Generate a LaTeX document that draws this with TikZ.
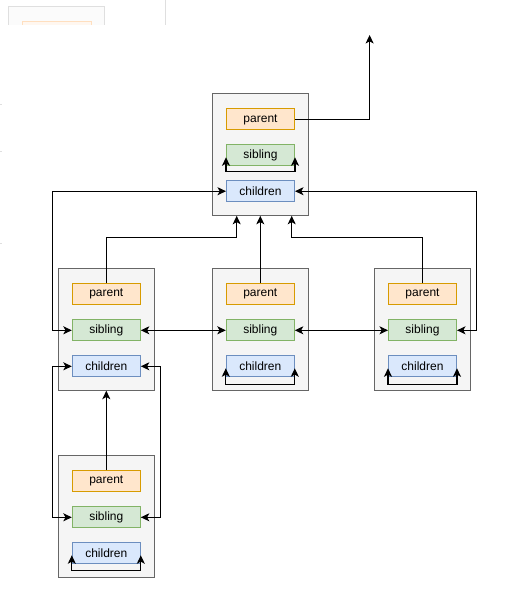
\documentclass[tikz,border=0pt]{standalone}
\usepackage{fontspec}
\setmainfont{Liberation Sans}
\usetikzlibrary{arrows.meta}
\definecolor{contfill}{HTML}{F5F5F5}
\definecolor{contline}{HTML}{666666}
\definecolor{parfill}{HTML}{FFE6CC}
\definecolor{parline}{HTML}{D79B00}
\definecolor{sibfill}{HTML}{D5E8D4}
\definecolor{sibline}{HTML}{82B366}
\definecolor{chfill}{HTML}{DAE8FC}
\definecolor{chline}{HTML}{6C8EBF}
\begin{document}
\begin{tikzpicture}[x=1pt,y=-1pt,
  container/.style={draw=contline,fill=contfill,line width=1pt,minimum width=96pt,minimum height=122pt,inner sep=0pt},
  inbox/.style={line width=1pt,minimum width=68pt,minimum height=21pt,inner sep=0pt,font=\fontsize{12}{14}\selectfont},
  parbox/.style={inbox,draw=parline,fill=parfill},
  sibbox/.style={inbox,draw=sibline,fill=sibfill},
  chbox/.style={inbox,draw=chline,fill=chfill},
  conn/.style={line width=1.1pt,black},
  tip/.style={conn,-{Stealth[length=8.5pt,width=8pt,inset=2.2pt]}},
  both/.style={conn,{Stealth[length=8.5pt,width=8pt,inset=2.2pt]}-{Stealth[length=8.5pt,width=8pt,inset=2.2pt]}},
  faint/.style={draw=gray!25,line width=0.8pt}
]
\useasboundingbox[fill=white] (0,0) rectangle (530,610);

% faint cropped fragments at the top left
\draw[faint,fill=gray!3] (8,25) -- (8,6) -- (104,6) -- (104,25);
\draw[draw=orange!25,fill=orange!6,line width=0.8pt] (22,25) -- (22,21) -- (91,21) -- (91,25);
\draw[faint] (165.7,0) -- (165.7,25);
\draw[faint] (0,104) -- (2,104);
\draw[faint] (0,151) -- (2,151);
\draw[faint] (0,243) -- (2,243);

% containers
\node[container] (T) at (260.3,154.3) {};
\node[container] (L) at (106.3,329.2) {};
\node[container] (M) at (260.3,329.2) {};
\node[container] (R) at (422.3,329.2) {};
\node[container] (B) at (106.3,516.2) {};

% top
\node[parbox] (tp) at (260.5,119.4) {parent};
\node[sibbox] (ts) at (260.5,155.3) {sibling};
\node[chbox]  (tc) at (260.5,191.2) {children};
% left
\node[parbox] (lp) at (106.3,294.3) {parent};
\node[sibbox] (ls) at (106.3,330.3) {sibling};
\node[chbox]  (lc) at (106.3,366.3) {children};
% middle
\node[parbox] (mp) at (260.3,294.3) {parent};
\node[sibbox] (ms) at (260.3,330.3) {sibling};
\node[chbox]  (mc) at (260.3,366.3) {children};
% right
\node[parbox] (rp) at (422.5,294.3) {parent};
\node[sibbox] (rs) at (422.5,330.3) {sibling};
\node[chbox]  (rc) at (422.5,366.3) {children};
% bottom
\node[parbox] (bp) at (106.3,481.3) {parent};
\node[sibbox] (bs) at (106.3,517.3) {sibling};
\node[chbox]  (bc) at (106.3,553.3) {children};

% helper coordinates
\coordinate (up) at (369.6,35);
\coordinate (hy) at (0,237.3);
\coordinate (xl) at (52.3,0);
\coordinate (xr) at (476.5,0);
\coordinate (xbr) at (160.3,0);
\coordinate (ta) at ([xshift=-23.6pt]T.south);
\coordinate (tb) at ([xshift=31.4pt]T.south);

% top parent upward
\draw[tip] (tp.east) -| (up);
% self loops
\draw[both] ([yshift=9pt]ts.south west) -- ([yshift=-5pt]ts.south west) -| ([yshift=9pt]ts.south east);
\draw[both] ([yshift=9pt]mc.south west) -- ([yshift=-7pt]mc.south west) -| ([yshift=9pt]mc.south east);
\draw[both] ([yshift=9pt]rc.south west) -- ([yshift=-7pt]rc.south west) -| ([yshift=9pt]rc.south east);
\draw[both] ([yshift=9pt]bc.south west) -- ([yshift=-6.3pt]bc.south west) -| ([yshift=9pt]bc.south east);

% parents of row 2 to top container
\draw[tip] (lp.north) -- (lp.north |- hy) -| (ta);
\draw[tip] (mp.north) -- (mp.north |- T.south);
\draw[tip] (rp.north) -- (rp.north |- hy) -| (tb);

% top children to outer siblings
\draw[both] (tc.west) -- (tc.west -| xl) -- (ls.west -| xl) -- (ls.west);
\draw[both] (tc.east) -- (tc.east -| xr) -- (rs.east -| xr) -- (rs.east);

% sibling chain
\draw[both] (ls.east) -- (ms.west);
\draw[both] (ms.east) -- (rs.west);

% left children to bottom sibling
\draw[both] (lc.west) -- (lc.west -| xl) -- (bs.west -| xl) -- (bs.west);
\draw[both] (lc.east) -- (lc.east -| xbr) -- (bs.east -| xbr) -- (bs.east);
% bottom parent to left container
\draw[tip] (bp.north) -- (bp.north |- L.south);
\end{tikzpicture}
\end{document}
